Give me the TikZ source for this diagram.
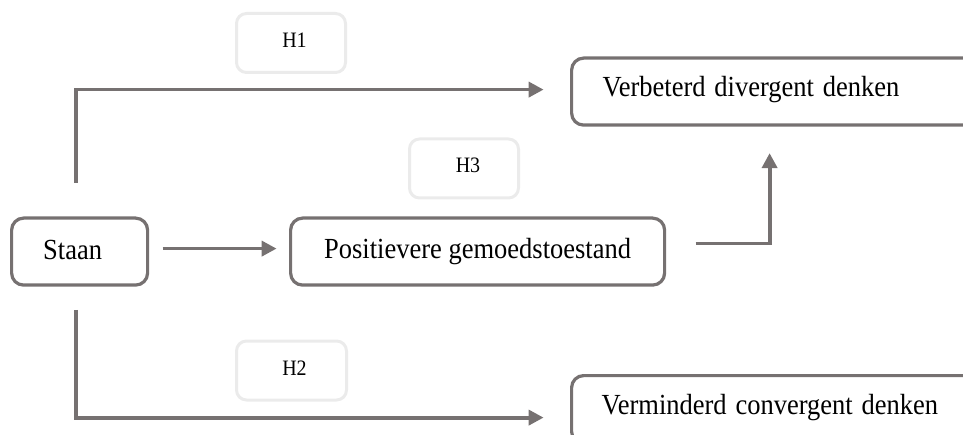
\documentclass[tikz,border=0pt]{standalone}
\usepackage{fontspec}
\setmainfont{Liberation Serif}
\usetikzlibrary{arrows.meta}
\definecolor{dg}{HTML}{767171}
\definecolor{lg}{HTML}{EBEBEB}
\newcommand{\stretchtxt}[1]{\scalebox{1}[1.1]{#1}}
\tikzset{
  bigbox/.style={draw=dg, line width=3.2pt, rounded corners=12pt, inner sep=0pt,
    font=\fontsize{26.5}{30}\selectfont, anchor=north west},
  hbox/.style={draw=lg, line width=3pt, rounded corners=10pt, inner sep=0pt,
    font=\fontsize{20}{22}\selectfont, text height=34pt, text depth=25pt, anchor=north west},
  conn/.style={draw=dg, line width=3.8pt, -{Triangle[length=15pt,width=15pt]}},
}
\begin{document}
\begin{tikzpicture}[x=1pt,y=-1pt]
\useasboundingbox (0,0) rectangle (963,435);
\clip (0,0) rectangle (963,435);
% boxes
\node[bigbox, minimum width=136pt, text height=41pt, text depth=26pt] (staan) at (10,216.5)
  {\stretchtxt{Staan}\hspace*{14pt}};
\node[bigbox, minimum width=374pt, text height=40pt, text depth=27pt] (posi) at (289,216.5)
  {\stretchtxt{Positievere gemoedstoestand}};
\node[bigbox, inner xsep=31pt, text width=358pt, align=left, text height=38pt, text depth=29pt] (verb) at (570,56.5)
  {\stretchtxt{Verbeterd divergent denken}};
\node[bigbox, inner xsep=30pt, text width=360pt, align=left, text height=39pt, text depth=29pt] (verm) at (570,374)
  {\stretchtxt{Verminderd convergent denken}};
% hypothesis labels
\node[hbox, minimum width=109pt] (h1) at (235,12) {\hspace*{7pt}\stretchtxt{H1}};
\node[hbox, minimum width=109pt] (h3) at (408,137.5) {\hspace*{8pt}\stretchtxt{H3}};
\node[hbox, minimum width=110pt] (h2) at (235,339.5) {\hspace*{6pt}\stretchtxt{H2}};
% connectors
\coordinate (t1) at (76,183);
\coordinate (b1) at (76,310);
\draw[conn, shorten >=26.4pt] (t1) |- ([yshift=2pt]verb.west);
\draw[conn, shorten <=13.4pt, shorten >=12.4pt] ([yshift=3pt]staan.east) -- ([yshift=3pt]posi.west);
\draw[conn] ([xshift=29.4pt,yshift=8pt]posi.east) -| ([xshift=199.6pt,yshift=-26.4pt]verb.south west);
\draw[conn, shorten >=26.4pt] (b1) |- ([yshift=-8pt]verm.west);
\end{tikzpicture}
\end{document}
